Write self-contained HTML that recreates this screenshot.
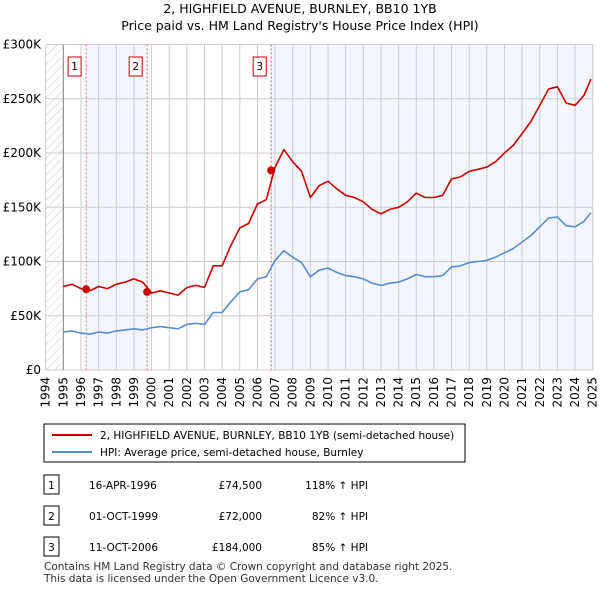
<!DOCTYPE html>
<html><head><meta charset="utf-8"><style>
body{margin:0;background:#fff;font-family:"Liberation Sans",sans-serif;}
svg text{font-family:"DejaVu Sans","Liberation Sans",sans-serif;}
</style></head><body>
<svg width="600" height="590" viewBox="0 0 600 590">
<defs><pattern id="h" width="6" height="6" patternUnits="userSpaceOnUse" patternTransform="rotate(45)"><line x1="0" y1="0" x2="0" y2="6" stroke="#ccc" stroke-width="1"/></pattern></defs>
<text x="300" y="13" text-anchor="middle" font-size="12.5" fill="#000">2, HIGHFIELD AVENUE, BURNLEY, BB10 1YB</text>
<text x="300" y="30" text-anchor="middle" font-size="12.5" fill="#000">Price paid vs. HM Land Registry's House Price Index (HPI)</text>
<g id="plot"></g>
<g id="legend">
<rect x="44" y="424" width="421" height="38" fill="#fff" stroke="#000" stroke-width="1"/>
<line x1="52" y1="435" x2="92" y2="435" stroke="#cc0000" stroke-width="2"/>
<text x="100" y="439" font-size="10.5">2, HIGHFIELD AVENUE, BURNLEY, BB10 1YB (semi-detached house)</text>
<line x1="52" y1="452" x2="92" y2="452" stroke="#5b8bd0" stroke-width="2"/>
<text x="100" y="456" font-size="10.5">HPI: Average price, semi-detached house, Burnley</text>
</g>
<g id="table" font-size="10.5"></g>
<text x="44" y="570" font-size="10.5" fill="#333">Contains HM Land Registry data © Crown copyright and database right 2025.</text>
<text x="44" y="582" font-size="10.5" fill="#333">This data is licensed under the Open Government Licence v3.0.</text>
</svg>
<script>
const years=[1995,1995.5,1996,1996.5,1997,1997.5,1998,1998.5,1999,1999.5,2000,2000.5,2001,2001.5,2002,2002.5,2003,2003.5,2004,2004.5,2005,2005.5,2006,2006.5,2007,2007.5,2008,2008.5,2009,2009.5,2010,2010.5,2011,2011.5,2012,2012.5,2013,2013.5,2014,2014.5,2015,2015.5,2016,2016.5,2017,2017.5,2018,2018.5,2019,2019.5,2020,2020.5,2021,2021.5,2022,2022.5,2023,2023.5,2024,2024.5,2024.9];
const hpi=[35,36,34,33,35,34,36,37,38,37,39,40,39,38,42,43,42,53,53,63,72,74,84,86,101,110,104,99,86,92,94,90,87,86,84,80,78,80,81,84,88,86,86,87,95,96,99,100,101,104,108,112,118,124,132,140,141,133,132,137,145];
const price=[77,79,75,73,77,75,79,81,84,81,71,73,71,69,76,78,76,96,96,115,131,135,153,157,187,203,192,183,159,170,174,167,161,159,155,148,144,148,150,155,163,159,159,161,176,178,183,185,187,192,200,207,218,229,244,259,261,246,244,253,268];
const saleYears=[1996.29,1999.75,2006.78];
const salePrices=[74.5,72,184];
const saleDates=["16-APR-1996","01-OCT-1999","11-OCT-2006"];
const saleLabels=["£74,500","£72,000","£184,000"];
const saleHpi=["118% ↑ HPI","82% ↑ HPI","85% ↑ HPI"];
const yTicks=[0,50,100,150,200,250,300];
const yTickLabels=["£0","£50K","£100K","£150K","£200K","£250K","£300K"];
const NS="http://www.w3.org/2000/svg";
const X=y=>45.7+(y-1994)*17.645;
const Y=v=>370-v*1.085;
const plot=document.getElementById('plot');
function mk(t,a,p){const e=document.createElementNS(NS,t);for(const k in a)e.setAttribute(k,a[k]);(p||plot).appendChild(e);return e;}
const bg=mk('rect',{x:X(1994),y:Y(300),width:X(2025)-X(1994),height:Y(0)-Y(300),fill:'#fff'});


const b1=mk('rect',{x:X(saleYears[0]),y:Y(300),width:X(saleYears[1])-X(saleYears[0]),height:Y(0)-Y(300),fill:'#eef3fc',opacity:0.7});


const b2=mk('rect',{x:X(saleYears[2]),y:Y(300),width:X(2025)-X(saleYears[2]),height:Y(0)-Y(300),fill:'#eef3fc',opacity:0.7});


const hz=mk('rect',{x:X(1994),y:Y(300),width:X(1995)-X(1994),height:Y(0)-Y(300),fill:'url(#h)'});


for(let yr=1994;yr<=2025;yr++){
 const l=mk('line',{x1:X(yr),x2:X(yr),y1:Y(300),y2:Y(0),stroke:'#ccc','stroke-width':1});
 
 
 const t=mk('text',{x:0,y:0,'font-size':12,'text-anchor':'end',transform:`translate(${X(yr)+4},377) rotate(-90)`});
 t.textContent=yr;
 
 
}
yTicks.forEach((v,i)=>{
 const l=mk('line',{x1:X(1994),x2:X(2025),y1:Y(v),y2:Y(v),stroke:'#ccc','stroke-width':1});
 
 
 const t=mk('text',{x:41,y:Y(v)+4,'font-size':12,'text-anchor':'end'});
 t.textContent=yTickLabels[i];
 
 
});
const ax=mk('line',{x1:X(1995),x2:X(1995),y1:Y(300),y2:Y(0),stroke:'#888','stroke-width':1});


saleYears.forEach((s,i)=>{
 const l=mk('line',{x1:X(s),x2:X(s),y1:Y(300),y2:Y(0),stroke:'#e06666','stroke-width':1,'stroke-dasharray':'2,2'});
 
 
 const r=mk('rect',{x:X(s)-18,y:57,width:13,height:19,fill:'#fff',stroke:'#cc0000'});
 
 
 const t=mk('text',{x:X(s)-11.5,y:70,'font-size':10.5,'text-anchor':'middle'});
 t.textContent=i+1;
 
 
});
function line(arr,col,name){
 const d=arr.map((v,i)=>(i?'L':'M')+X(years[i]).toFixed(1)+','+Y(v).toFixed(1)).join('');
 const p=mk('path',{d:d,fill:'none',stroke:col,'stroke-width':1.6,'stroke-linejoin':'round'});
 
 
}
line(hpi,'#5b8bd0','hpi-line');
line(price,'#cc0000','price-line');
saleYears.forEach((s,i)=>{
 const c=mk('circle',{cx:X(s),cy:Y(salePrices[i]),r:4,fill:'#cc0000'});
 
 
});
const tb=document.getElementById('table');
const rowsY=[485,516,547];
rowsY.forEach((ry,i)=>{
 const r=mk('rect',{x:44,y:ry-10,width:15,height:19,fill:'#fff',stroke:'#000'},tb);
 
 
 const n=mk('text',{x:51.5,y:ry+4,'text-anchor':'middle'},tb);n.textContent=i+1;
 
 
 const d=mk('text',{x:89,y:ry+4},tb);d.textContent=saleDates[i];
 
 
 const p=mk('text',{x:262,y:ry+4,'text-anchor':'end'},tb);p.textContent=saleLabels[i];
 
 
 const h=mk('text',{x:368,y:ry+4,'text-anchor':'end'},tb);h.textContent=saleHpi[i];
 
 
});
</script>
</body></html>
